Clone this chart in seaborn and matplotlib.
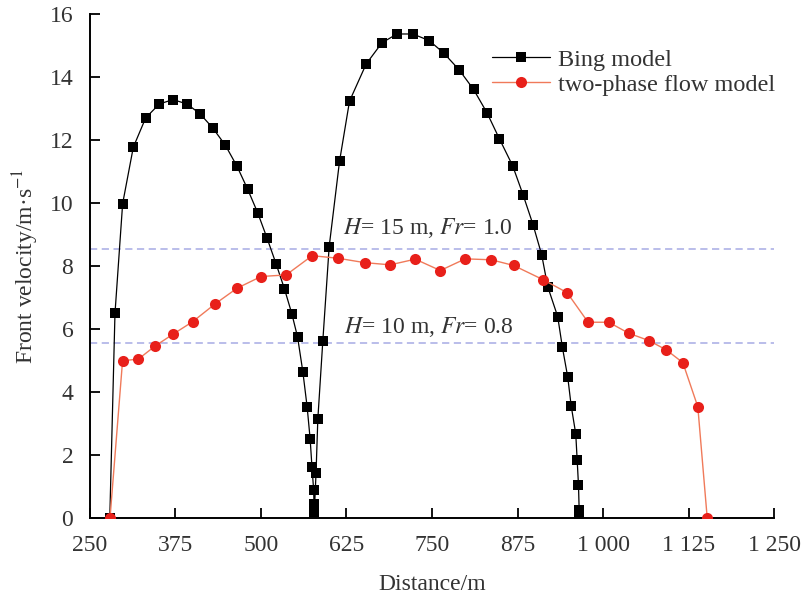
import matplotlib
matplotlib.use("Agg")
import matplotlib.pyplot as plt
import seaborn as sns
import pandas as pd
from matplotlib.lines import Line2D

# ---- data ----
bing_x = [279, 286.6, 297.8, 313.4, 331.5, 351.4, 371.4, 391.9, 410.9, 429.5, 448.0,
          465.1, 480.7, 495.4, 509.0, 522.1, 534.3, 545.1, 553.5, 561.2, 567.5, 571.9,
          574.5, 577.0, 577.5, 578.0, 580.5, 583.1, 590.4, 599.7, 614.8, 629.4, 653.8,
          676.8, 698.7, 722.1, 745.9, 766.9, 789.4, 810.8, 830.4, 848.4, 867.9, 883.1,
          897.7, 910.3, 919.1, 933.7, 940.6, 948.4, 953.4, 960.1, 962.2, 964.1, 965.1, 965.4]
bing_v = [0.0, 6.50, 9.98, 11.77, 12.70, 13.14, 13.28, 13.14, 12.83, 12.38, 11.83,
          11.16, 10.43, 9.68, 8.88, 8.07, 7.28, 6.49, 5.75, 4.65, 3.53, 2.51,
          1.64, 0.90, 0.45, 0.20, 1.45, 3.15, 5.63, 8.62, 11.32, 13.23, 14.41,
          15.08, 15.36, 15.36, 15.15, 14.76, 14.23, 13.60, 12.86, 12.04, 11.18, 10.26,
          9.31, 8.36, 7.35, 6.40, 5.42, 4.48, 3.57, 2.68, 1.84, 1.05, 0.26, 0.05]

tp_x = [279.3, 297.7, 320.7, 345.5, 371.4, 400.3, 432.9, 465.1, 500.2, 536.8, 574.8,
        612.4, 651.4, 688.9, 725.5, 762.1, 798.6, 836.7, 869.3, 912.3, 947.4, 978.1,
        1008.3, 1037.6, 1066.9, 1092.7, 1116.6, 1138.5, 1152.3]
tp_v = [0.0, 5.00, 5.05, 5.47, 5.84, 6.24, 6.80, 7.30, 7.67, 7.72, 8.33,
        8.25, 8.11, 8.04, 8.22, 7.86, 8.23, 8.20, 8.02, 7.57, 7.16, 6.22,
        6.22, 5.87, 5.64, 5.34, 4.94, 3.54, 0.0]

ref_levels = [8.54, 5.57]
ref_labels = [r"$\mathit{H}$= 15 m, $\mathit{Fr}$= 1.0", r"$\mathit{H}$= 10 m, $\mathit{Fr}$= 0.8"]

x_ticks = [250, 375, 500, 625, 750, 875, 1000, 1125, 1250]
x_ticklabels = ["250", "375", "500", "625", "750", "875", "1 000", "1 125", "1 250"]
y_ticks = [0, 2, 4, 6, 8, 10, 12, 14, 16]

series_names = ["Bing model", "two-phase flow model"]

# ---- style ----
sns.set_theme(style="white")
plt.rcParams["font.family"] = ["Liberation Serif", "DejaVu Serif"]
plt.rcParams["mathtext.fontset"] = "stix"
text_color = "#333333"

fig = plt.figure(figsize=(8.03, 6.0), dpi=100)
ax = fig.add_axes([0.112, 0.136, 0.852, 0.841])

# reference dashed lines
for lv in ref_levels:
    ax.plot([250, 1250], [lv, lv], color="#b4b8e8", lw=1.3, dashes=(4, 2.5), zorder=1)

bing_df = pd.DataFrame({"Distance": bing_x, "Velocity": bing_v})
tp_df = pd.DataFrame({"Distance": tp_x, "Velocity": tp_v})

sns.lineplot(data=bing_df, x="Distance", y="Velocity", ax=ax, sort=False, estimator=None,
             color="black", lw=0.9, marker="s", markersize=7.5, markeredgewidth=0,
             markerfacecolor="black", zorder=3)
sns.lineplot(data=tp_df, x="Distance", y="Velocity", ax=ax, sort=False, estimator=None,
             color="#f07a5a", lw=1.0, marker="o", markersize=8, markeredgewidth=0,
             markerfacecolor="#e8201a", zorder=4)

ax.text(620, 9.22, ref_labels[0], fontsize=17, color=text_color, va="center", ha="left")
ax.text(622, 6.08, ref_labels[1], fontsize=17, color=text_color, va="center", ha="left")

ax.set_xlim(250, 1250)
ax.set_ylim(0, 16)
ax.set_xticks(x_ticks)
ax.set_xticklabels(x_ticklabels)
ax.set_yticks(y_ticks)
ax.tick_params(axis="both", direction="in", length=7.5, width=1.3, color="black",
               labelsize=17, labelcolor=text_color, pad=12,
               bottom=True, left=True, top=False, right=False)
for s in ["top", "right"]:
    ax.spines[s].set_visible(False)
for s in ["left", "bottom"]:
    ax.spines[s].set_color("black")
    ax.spines[s].set_linewidth(1.4)

ax.set_xlabel("Distance/m", fontsize=17, color=text_color, labelpad=13)
ax.set_ylabel(r"Front velocity/m·s$^{-1}$", fontsize=17, color=text_color, labelpad=6)

handles = [
    Line2D([], [], color="black", lw=0.9, marker="s", markersize=7.5, markeredgewidth=0),
    Line2D([], [], color="#f07a5a", lw=1.0, marker="o", markersize=8, markeredgewidth=0,
           markerfacecolor="#e8201a"),
]
leg = ax.legend(handles, series_names, loc="upper right", bbox_to_anchor=(1.015, 0.95),
                frameon=False, fontsize=17.5, handlelength=2.4, handletextpad=0.3,
                labelspacing=0.12, borderaxespad=0)
for t in leg.get_texts():
    t.set_color(text_color)

fig.savefig("out.png", dpi=100)
